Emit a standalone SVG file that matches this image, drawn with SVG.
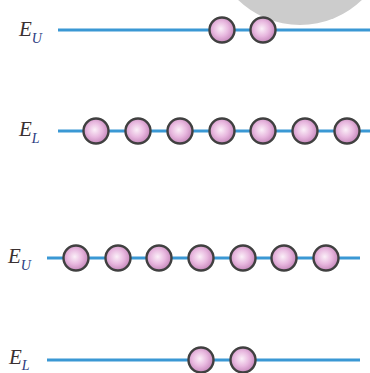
<svg xmlns="http://www.w3.org/2000/svg" width="370" height="373" viewBox="0 0 370 373">
<defs>
<radialGradient id="g" cx="0.45" cy="0.45" r="0.6">
<stop offset="0" stop-color="#fbf0f8"/>
<stop offset="0.5" stop-color="#e8b8df"/>
<stop offset="1" stop-color="#c07fb5"/>
</radialGradient>
</defs>
<style>
.lvl{stroke:#3a98d4;stroke-width:3;fill:none}
.e{fill:url(#g);stroke:#404040;stroke-width:2.4}
.lbl{font-family:"Liberation Serif",serif;font-style:italic;fill:#3a3030}
.big{font-size:21px}
.sub{font-size:14px;fill:#2a3a80}
</style>
<ellipse cx="300" cy="-64" rx="89" ry="89" fill="#cccccc"/>
<g id="connectors">
<line class="lvl" x1="58" y1="30" x2="370" y2="30"/>
<line class="lvl" x1="58" y1="131" x2="370" y2="131"/>
<line class="lvl" x1="47" y1="258" x2="360" y2="258"/>
<line class="lvl" x1="47" y1="360" x2="360" y2="360"/>
</g>
<g id="label-EU-top"><text class="lbl" x="19" y="36"><tspan class="big">E</tspan><tspan class="sub" dy="7">U</tspan></text></g>
<g id="label-EL-top"><text class="lbl" x="19" y="136"><tspan class="big">E</tspan><tspan class="sub" dy="7">L</tspan></text></g>
<g id="label-EU-bottom"><text class="lbl" x="8" y="263"><tspan class="big">E</tspan><tspan class="sub" dy="7">U</tspan></text></g>
<g id="label-EL-bottom"><text class="lbl" x="9" y="364"><tspan class="big">E</tspan><tspan class="sub" dy="6">L</tspan></text></g>
<g id="row1">
<circle class="e" cx="222" cy="30" r="12.5"/>
<circle class="e" cx="263" cy="30" r="12.5"/>
</g>
<g id="row2">
<circle class="e" cx="96" cy="131" r="12.5"/>
<circle class="e" cx="138" cy="131" r="12.5"/>
<circle class="e" cx="180" cy="131" r="12.5"/>
<circle class="e" cx="222" cy="131" r="12.5"/>
<circle class="e" cx="263" cy="131" r="12.5"/>
<circle class="e" cx="305" cy="131" r="12.5"/>
<circle class="e" cx="347" cy="131" r="12.5"/>
</g>
<g id="row3">
<circle class="e" cx="76" cy="258" r="12.5"/>
<circle class="e" cx="118" cy="258" r="12.5"/>
<circle class="e" cx="159" cy="258" r="12.5"/>
<circle class="e" cx="201" cy="258" r="12.5"/>
<circle class="e" cx="243" cy="258" r="12.5"/>
<circle class="e" cx="284" cy="258" r="12.5"/>
<circle class="e" cx="326" cy="258" r="12.5"/>
</g>
<g id="row4">
<circle class="e" cx="201" cy="360" r="12.5"/>
<circle class="e" cx="243" cy="360" r="12.5"/>
</g>
</svg>
